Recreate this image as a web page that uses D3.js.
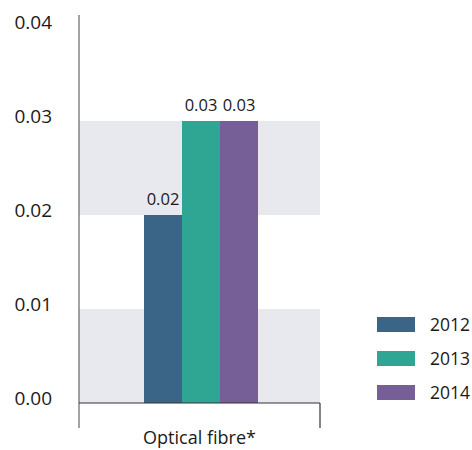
<!DOCTYPE html>
<html>
<head>
<meta charset="utf-8">
<script src="https://cdn.jsdelivr.net/npm/d3@7"></script>
<style>
  html, body { margin: 0; padding: 0; background: #fff; }
  svg { display: block; font-family: "Open Sans", "DejaVu Sans", sans-serif; }
</style>
</head>
<body>
<svg id="chart" width="472" height="450"></svg>
<script>
// Chart data
const categories = ["Optical fibre*"];
const years = ["2012", "2013", "2014"];
const values2012 = [0.02];
const values2013 = [0.03];
const values2014 = [0.03];
const yTicks = [0, 0.01, 0.02, 0.03, 0.04];
const colors = ["#3a6586", "#2fa693", "#765f97"];

const seriesValues = [values2012, values2013, values2014];

const svg = d3.select("#chart");
const plot = { left: 79, right: 320, top: 27, bottom: 403 };

const y = d3.scaleLinear().domain([0, 0.04]).range([plot.bottom, plot.top]);
const x0 = d3.scaleBand().domain(categories).range([plot.left, plot.right]).padding(0);
const groupWidth = 114;
const x1 = d3.scaleBand().domain(years)
  .range([(x0.bandwidth() - groupWidth) / 2 + 1.5, (x0.bandwidth() + groupWidth) / 2 + 1.5])
  .padding(0);

// Alternating background bands
const bandPairs = d3.pairs(yTicks).filter((d, i) => i % 2 === 0);
svg.append("g").selectAll("rect").data(bandPairs).join("rect")
  .attr("x", plot.left)
  .attr("width", plot.right - plot.left)
  .attr("y", d => y(d[1]))
  .attr("height", d => y(d[0]) - y(d[1]))
  .attr("fill", "#e8e8ef");

// Bars
const barData = [];
categories.forEach((c, ci) => {
  years.forEach((yr, si) => barData.push({ cat: c, year: yr, value: seriesValues[si][ci], color: colors[si] }));
});

const bars = svg.append("g");
bars.selectAll("rect").data(barData).join("rect")
  .attr("x", d => x0(d.cat) + x1(d.year))
  .attr("width", x1.bandwidth())
  .attr("y", d => y(d.value))
  .attr("height", d => y(0) - y(d.value))
  .attr("fill", d => d.color);

// Value labels
bars.selectAll("text").data(barData).join("text")
  .attr("x", d => x0(d.cat) + x1(d.year) + x1.bandwidth() / 2)
  .attr("y", d => y(d.value) - 10)
  .attr("text-anchor", "middle")
  .attr("font-size", 16.5)
  .attr("fill", "#1a1a1a")
  .text(d => d3.format(".2f")(d.value));

// Y axis
const yAxis = svg.append("g")
  .attr("transform", `translate(${plot.left},0)`)
  .call(d3.axisLeft(y).tickValues(yTicks).tickFormat(d3.format(".2f")).tickSize(0).tickPadding(27));
yAxis.select(".domain").remove();
yAxis.selectAll("text")
  .attr("font-size", 19)
  .attr("fill", "#1a1a1a")
  .attr("font-family", "'Open Sans', sans-serif")
  .attr("dy", "0.1em");

svg.append("line")
  .attr("x1", plot.left).attr("x2", plot.left)
  .attr("y1", 15).attr("y2", 428)
  .attr("stroke", "#666").attr("stroke-width", 1.2);

// X axis
const xAxis = svg.append("g")
  .attr("transform", `translate(0,${plot.bottom})`)
  .call(d3.axisBottom(x0).tickSize(0).tickPadding(28));
xAxis.select(".domain").remove();
xAxis.selectAll("text")
  .attr("font-size", 18)
  .attr("fill", "#1a1a1a")
  .attr("font-family", "'Open Sans', sans-serif");

svg.append("line")
  .attr("x1", plot.left).attr("x2", plot.right)
  .attr("y1", plot.bottom).attr("y2", plot.bottom)
  .attr("stroke", "#333").attr("stroke-width", 1.2);
svg.append("line")
  .attr("x1", plot.right).attr("x2", plot.right)
  .attr("y1", plot.bottom).attr("y2", 428)
  .attr("stroke", "#333").attr("stroke-width", 1.2);

// Legend
const legend = svg.append("g").attr("transform", "translate(377,317)");
const legendItems = legend.selectAll("g").data(years).join("g")
  .attr("transform", (d, i) => `translate(0,${i * 34})`);
legendItems.append("rect")
  .attr("width", 38).attr("height", 15)
  .attr("fill", (d, i) => colors[i]);
legendItems.append("text")
  .attr("x", 53).attr("y", 7.5)
  .attr("dy", "0.35em")
  .attr("font-size", 17.5)
  .attr("fill", "#1a1a1a")
  .text(d => d);
</script>
</body>
</html>
